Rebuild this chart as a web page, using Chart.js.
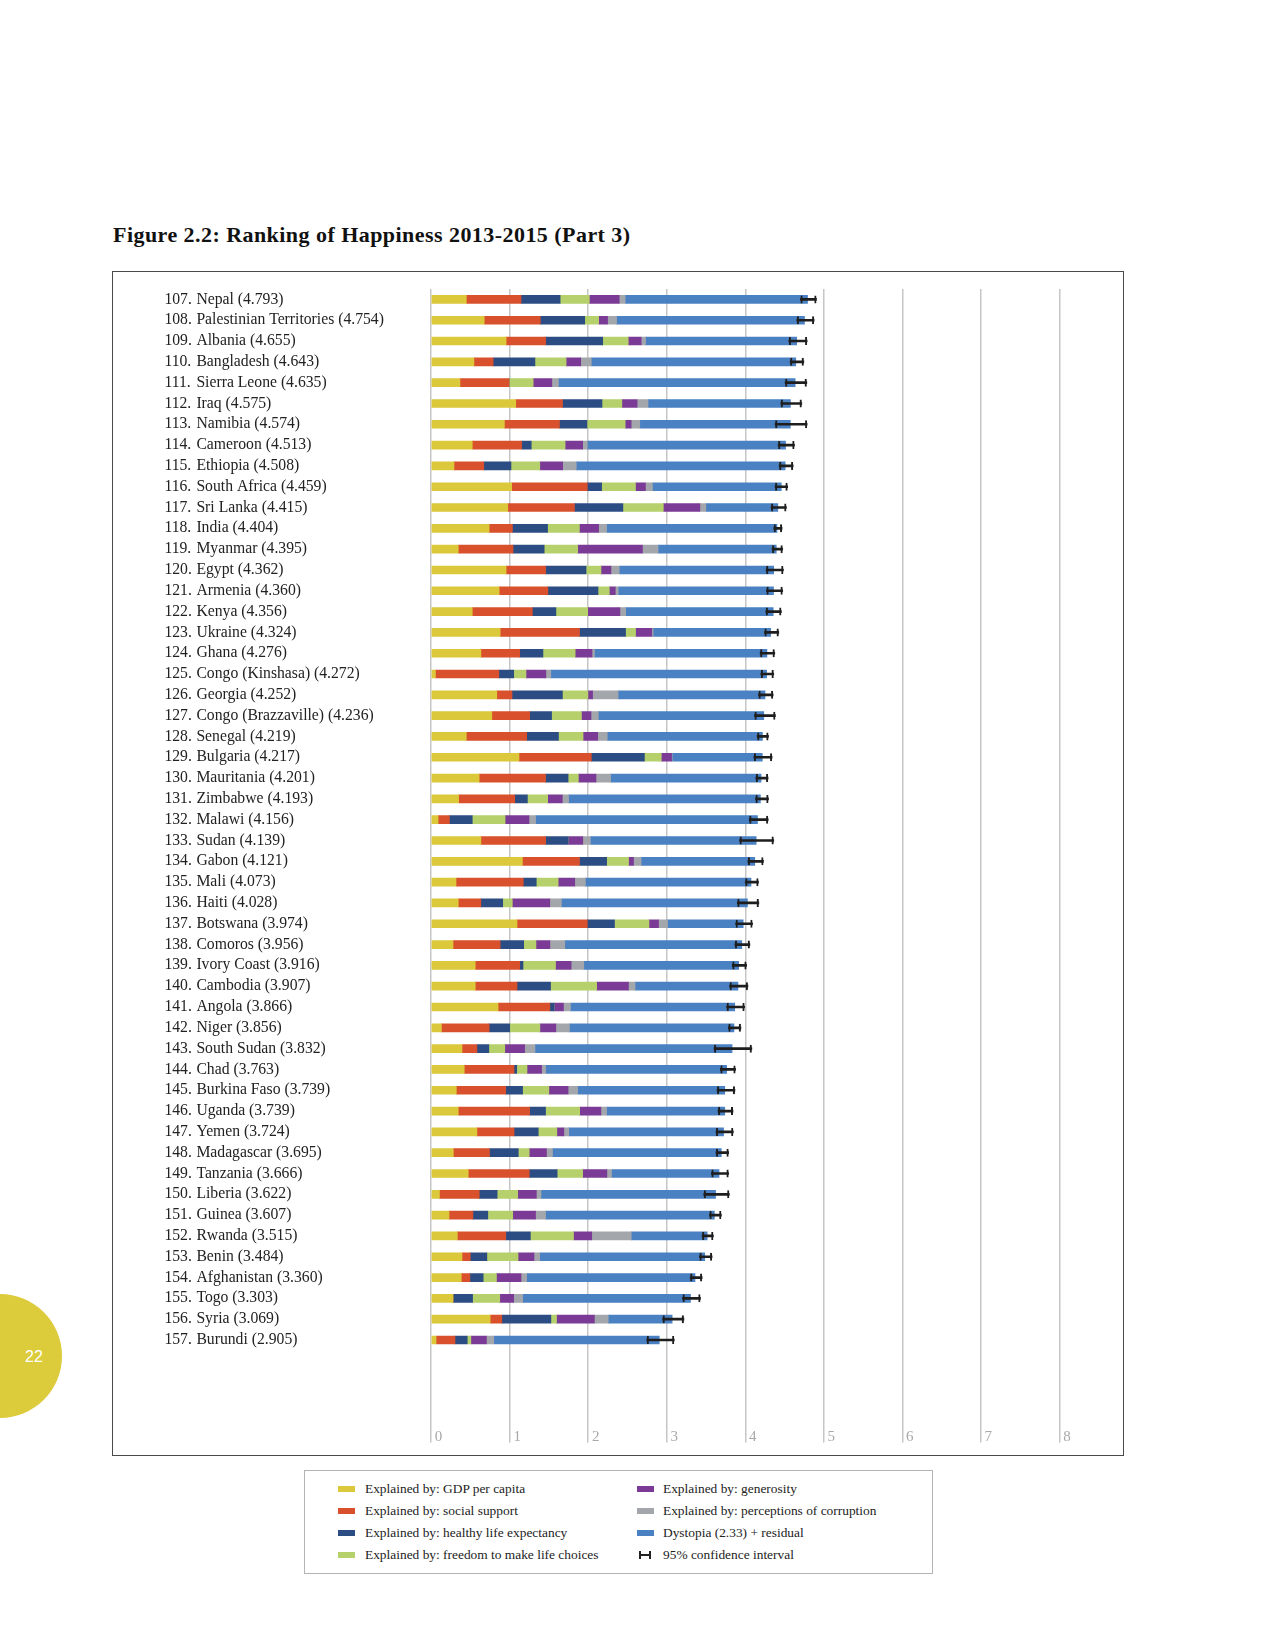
<!DOCTYPE html>
<html>
<head>
<meta charset="utf-8">
<script src="https://cdn.jsdelivr.net/npm/chart.js@4.4.1/dist/chart.umd.min.js"></script>
<style>
  html, body { margin: 0; padding: 0; background: #fff; }
  body { width: 1275px; height: 1651px; position: relative; overflow: hidden; font-family: 'Liberation Serif', serif; color: #222; }
  #title { position: absolute; left: 113px; top: 224px; font-size: 22px; letter-spacing: 0.45px; font-weight: bold; color: #111; white-space: nowrap; line-height: 1; }
  #frame { position: absolute; left: 112px; top: 271px; width: 1010px; height: 1183px; border: 1.6px solid #4a4a4a; }
  #chartBox { position: absolute; left: 0; top: 0; width: 1010px; height: 1183px; }
  #legend { position: absolute; left: 304px; top: 1470px; width: 629px; height: 104px; border: 1px solid #b4b4b4; box-sizing: border-box; }
  .item { position: absolute; font-size: 13.4px; line-height: 16px; white-space: nowrap; color: #222; }
  .sw { position: absolute; width: 17px; height: 6px; }
  .ci { position: absolute; width: 8px; height: 8px; border-left: 2px solid #222; border-right: 2px solid #222; }
  .ci::after { content: ''; position: absolute; left: 0; right: 0; top: 3px; height: 2px; background: #222; }
  #page { position: absolute; left: -62px; top: 1294px; width: 124px; height: 124px; border-radius: 50%; background: #dccb3a; }
  #pageNum { position: absolute; left: 25px; top: 1348px; font-family: 'Liberation Sans', sans-serif; font-size: 16px; color: #fff; }
</style>
</head>
<body>
<div id="title">Figure 2.2: Ranking of Happiness 2013-2015 (Part 3)</div>
<div id="frame"><div id="chartBox"><canvas id="chart"></canvas></div></div>
<div id="legend"></div>
<div id="page"></div>
<div id="pageNum">22</div>
<script>
// ranks, countries and scores (tick labels)
const ranks = [107,108,109,110,111,112,113,114,115,116,117,118,119,120,121,122,123,124,125,126,
  127,128,129,130,131,132,133,134,135,136,137,138,139,140,141,142,143,144,145,146,
  147,148,149,150,151,152,153,154,155,156,157];
const countries = ['Nepal','Palestinian Territories','Albania','Bangladesh','Sierra Leone','Iraq','Namibia',
  'Cameroon','Ethiopia','South Africa','Sri Lanka','India','Myanmar','Egypt','Armenia','Kenya','Ukraine',
  'Ghana','Congo (Kinshasa)','Georgia','Congo (Brazzaville)','Senegal','Bulgaria','Mauritania','Zimbabwe',
  'Malawi','Sudan','Gabon','Mali','Haiti','Botswana','Comoros','Ivory Coast','Cambodia','Angola','Niger',
  'South Sudan','Chad','Burkina Faso','Uganda','Yemen','Madagascar','Tanzania','Liberia','Guinea','Rwanda',
  'Benin','Afghanistan','Togo','Syria','Burundi'];
const scores = [4.793,4.754,4.655,4.643,4.635,4.575,4.574,4.513,4.508,4.459,4.415,4.404,4.395,4.362,4.360,
  4.356,4.324,4.276,4.272,4.252,4.236,4.219,4.217,4.201,4.193,4.156,4.139,4.121,4.073,4.028,3.974,3.956,
  3.916,3.907,3.866,3.856,3.832,3.763,3.739,3.739,3.724,3.695,3.666,3.622,3.607,3.515,3.484,3.360,3.303,
  3.069,2.905];

// explained components
const gdp = [0.448,0.676,0.955,0.545,0.367,1.077,0.933,0.524,0.291,
  1.026,0.976,0.739,0.346,0.955,0.866,0.524,0.879,0.634,
  0.055,0.836,0.773,0.448,1.119,0.612,0.351,0.089,0.634,
  1.162,0.317,0.346,1.094,0.279,0.562,0.562,0.853,0.131,0.393,
  0.422,0.321,0.346,0.583,0.283,0.473,0.106,0.228,0.334,
  0.393,0.384,0.279,0.752,0.063];
const social = [0.697,0.714,0.503,0.245,0.625,0.596,0.701,0.629,0.380,
  0.963,0.849,0.296,0.697,0.503,0.621,0.765,1.010,0.494,
  0.807,0.194,0.482,0.769,0.921,0.845,0.714,0.144,0.824,
  0.727,0.857,0.287,0.895,0.600,0.566,0.532,0.659,0.608,0.190,
  0.634,0.629,0.908,0.473,0.460,0.777,0.507,0.304,0.617,
  0.106,0.110,0,0.148,0.241];
const health = [0.498,0.566,0.727,0.532,0,0.503,0.351,0.122,0.346,
  0.182,0.617,0.448,0.397,0.515,0.638,0.300,0.587,0.296,
  0.190,0.642,0.279,0.405,0.676,0.287,0.161,0.291,0.287,
  0.346,0.165,0.279,0.346,0.300,0.042,0.427,0.055,0.262,0.152,
  0.034,0.215,0.203,0.308,0.367,0.355,0.228,0.190,0.313,
  0.211,0.169,0.249,0.625,0.156];
const freedom = [0.372,0.177,0.325,0.397,0.308,0.253,0.486,0.431,0.367,
  0.431,0.515,0.405,0.427,0.190,0.144,0.405,0.127,0.410,
  0.156,0.325,0.380,0.313,0.215,0.131,0.258,0.418,0,
  0.279,0.279,0.122,0.439,0.156,0.414,0.587,0,0.384,0.203,
  0.131,0.334,0.435,0.237,0.139,0.325,0.262,0.317,0.549,
  0.397,0.169,0.346,0.072,0.046];
const generosity = [0.380,0.114,0.165,0.186,0.237,0.194,0.076,0.224,0.291,
  0.127,0.465,0.245,0.824,0.127,0.076,0.410,0.207,0.215,
  0.253,0.059,0.122,0.186,0.131,0.224,0.186,0.304,0.186,
  0.063,0.211,0.477,0.122,0.177,0.199,0.405,0.118,0.203,0.253,
  0.186,0.245,0.270,0.089,0.220,0.308,0.237,0.291,0.232,
  0.203,0.313,0.177,0.482,0.199];
const corruption = [0.076,0.114,0.055,0.135,0.084,0.139,0.110,0.059,0.173,
  0.089,0.076,0.101,0.199,0.106,0.038,0.072,0.017,0.030,
  0.063,0.325,0.093,0.122,0.008,0.186,0.080,0.084,0.097,
  0.097,0.135,0.148,0.114,0.190,0.161,0.084,0.089,0.173,0.131,
  0.051,0.122,0.072,0.063,0.076,0.059,0.059,0.127,0.503,
  0.072,0.072,0.114,0.177,0.093];
const dystopia = [2.322,2.393,1.925,2.603,3.014,1.813,1.917,2.524,2.660,
  1.641,0.917,2.170,1.505,1.966,1.977,1.880,1.497,2.197,
  2.748,1.871,2.107,1.976,1.147,1.916,2.443,2.826,2.111,
  1.447,2.109,2.369,0.964,2.254,1.972,1.310,2.092,2.095,2.510,
  2.305,1.873,1.505,1.971,2.150,1.369,2.223,2.150,0.967,
  2.102,2.143,2.138,0.813,2.107];

// 95% confidence interval
const ciLow = [4.703,4.657,4.555,4.572,4.508,4.453,4.381,4.419,4.432,
  4.380,4.329,4.363,4.342,4.266,4.270,4.262,4.245,4.190,
  4.199,4.169,4.118,4.152,4.110,4.135,4.131,4.051,3.928,
  4.034,4.000,3.899,3.878,3.869,3.835,3.801,3.763,3.785,3.603,
  3.683,3.641,3.654,3.628,3.628,3.569,3.472,3.544,3.451,
  3.417,3.299,3.202,2.948,2.746];
const ciHigh = [4.907,4.877,4.788,4.746,4.784,4.720,4.788,4.627,4.610,
  4.540,4.524,4.469,4.477,4.486,4.477,4.460,4.427,4.376,
  4.363,4.355,4.384,4.296,4.342,4.291,4.296,4.292,4.363,
  4.232,4.169,4.173,4.093,4.059,4.017,4.034,3.992,3.945,4.084,
  3.877,3.869,3.844,3.848,3.789,3.789,3.797,3.696,3.594,
  3.578,3.451,3.430,3.219,3.096];

const seriesNames = ['Explained by: GDP per capita','Explained by: social support',
  'Explained by: healthy life expectancy','Explained by: freedom to make life choices',
  'Explained by: generosity','Explained by: perceptions of corruption',
  'Dystopia (2.33) + residual','95% confidence interval'];
const seriesColors = ['#dcc93b','#d9512c','#2c4d84','#b6d16c','#7b3a96','#a3a6ab','#4a81c3','#1e1e1e'];

const nameLabels = countries.map((c, i) => c + ' (' + scores[i].toFixed(3) + ')');
const rankLabels = ranks.map(r => r + '.');
const parts = [gdp, social, health, freedom, generosity, corruption, dystopia];
const ciRange = ciLow.map((lo, i) => [lo, ciHigh[i]]);

const datasets = parts.map((vals, k) => ({
    label: seriesNames[k],
    data: vals,
    backgroundColor: seriesColors[k],
    stack: 'score',
    barThickness: 8,
    order: 1
}));
datasets.push({
    label: 'ci line',
    data: ciRange,
    backgroundColor: seriesColors[7],
    stack: 'ciLine',
    barThickness: 2,
    order: 0
});
datasets.push({
    label: 'ci caps',
    data: ciRange,
    backgroundColor: 'rgba(0,0,0,0)',
    borderColor: seriesColors[7],
    borderWidth: {top: 0, bottom: 0, left: 2, right: 2},
    borderSkipped: false,
    inflateAmount: 0,
    stack: 'ciCap',
    barThickness: 8,
    order: 0
});

Chart.defaults.font.family = "'Liberation Serif', serif";

new Chart(document.getElementById('chart'), {
    type: 'bar',
    data: { labels: nameLabels, datasets: datasets },
    options: {
        indexAxis: 'y',
        responsive: true,
        maintainAspectRatio: false,
        animation: false,
        datasets: { bar: { grouped: false } },
        layout: { padding: { left: 51.4, right: 63.6, top: 17, bottom: 4.6 } },
        plugins: { legend: { display: false }, tooltip: { enabled: false } },
        scales: {
            x: {
                type: 'linear',
                stacked: true,
                min: 0,
                max: 8,
                position: 'bottom',
                ticks: { stepSize: 1, align: 'start', padding: -14, color: '#a8a8a8', font: { size: 15 },
                    callback: v => ' ' + v },
                grid: { color: '#c6c6c6', lineWidth: 1.5, tickLength: 92, drawTicks: true },
                border: { display: false },
                afterFit: s => { s.height = 100; }
            },
            yr: {
                type: 'category',
                axis: 'y',
                position: 'left',
                labels: rankLabels,
                weight: 1,
                grid: { display: false },
                border: { display: false },
                ticks: { autoSkip: false, crossAlign: 'far', padding: 0, color: '#222', font: { size: 15.7 } },
                afterFit: s => { s.width = 32; }
            },
            y: {
                type: 'category',
                position: 'left',
                weight: 0,
                grid: { display: false },
                border: { display: false },
                ticks: { autoSkip: false, crossAlign: 'far', padding: 0, color: '#222', font: { size: 15.7 } },
                afterFit: s => { s.width = 234.7; }
            }
        }
    }
});

// legend in two columns, as in the report
const legend = document.getElementById('legend');
seriesNames.forEach((name, k) => {
    const col = k < 4 ? 0 : 1;
    const row = k % 4;
    const cy = 18 + row * 22;
    const sx = col ? 332 : 33;
    const tx = col ? 358 : 60;
    const mark = document.createElement('div');
    if (k === 7) {
        mark.className = 'ci';
        mark.style.left = (sx + 2) + 'px';
        mark.style.top = (cy - 4) + 'px';
    } else {
        mark.className = 'sw';
        mark.style.left = sx + 'px';
        mark.style.top = (cy - 3) + 'px';
        mark.style.background = seriesColors[k];
    }
    legend.appendChild(mark);
    const txt = document.createElement('div');
    txt.className = 'item';
    txt.style.left = tx + 'px';
    txt.style.top = (cy - 8) + 'px';
    txt.textContent = name;
    legend.appendChild(txt);
});
</script>
</body>
</html>
